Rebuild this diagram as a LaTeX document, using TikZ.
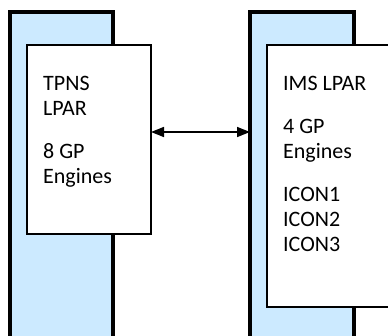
\documentclass[tikz,border=0pt]{standalone}
\usepackage{fontspec}
\setmainfont{Carlito}
\usetikzlibrary{positioning,arrows.meta}
\definecolor{barblue}{RGB}{204,234,255}

\begin{document}
\begin{tikzpicture}[x=1pt, y=-1pt,
		bar/.style={draw, line width=4pt, outer sep=0pt, anchor=north west, top color=barblue, middle color=white, bottom color=barblue},
		lpar/.style={draw, fill=white, line width=1.2pt, outer sep=0pt, anchor=north west},
		txt/.style={anchor=north west, inner sep=0pt, align=left, font=\fontsize{22}{25}\selectfont}]
					\clip (0,0) rectangle (388,335);
					\node[bar, minimum width=103pt, minimum height=340pt] (TPNSbar)at(10, 12) {};
					\node[bar, minimum width=104pt, minimum height=340pt] (IMSbar)at(250, 12) {};
					\node[lpar, minimum width=124pt, minimum height=189pt] (TPNS)at(27, 45) {};
					\node[lpar, minimum width=153pt, minimum height=262pt] (IMS)at(267, 45) {};
					\node[txt, below right=31pt and 16pt of TPNS.north west] (TPNStxt) {TPNS\\LPAR\\[18pt]8 GP\\Engines};
					\node[txt, below right=31pt and 16pt of IMS.north west] (IMStxt) {IMS LPAR\\[18pt]4 GP\\Engines\\[18pt]ICON1\\ICON2\\ICON3};
					\draw[{Triangle[length=13pt, width=10pt]}-{Triangle[length=13pt, width=10pt]}, line width=1.5pt] ([yshift=7.5pt]TPNS.east) -- ([yshift=7.5pt]TPNS.east -| IMSbar.west);
				\end{tikzpicture}
\end{document}
